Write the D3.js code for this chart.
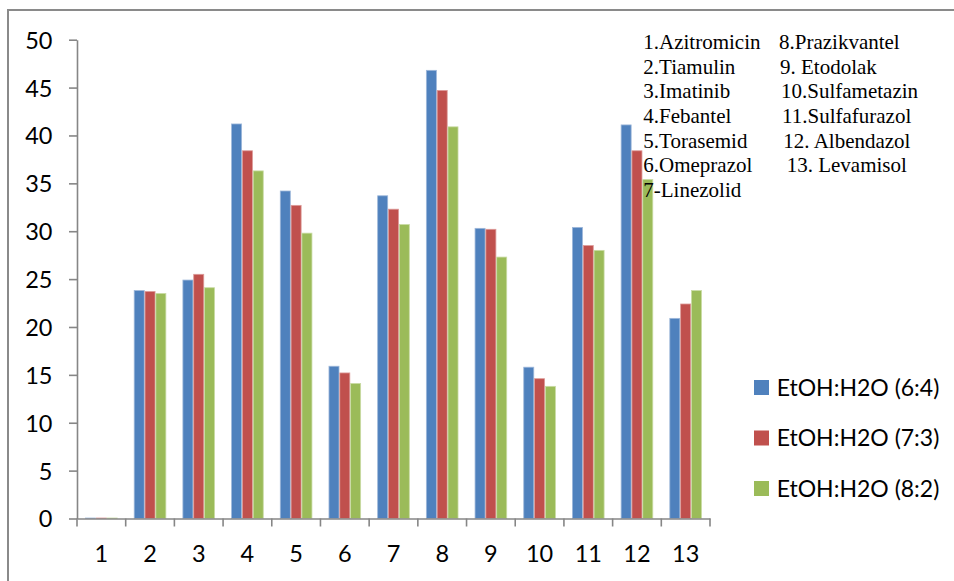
<!DOCTYPE html>
<html>
<head>
<meta charset="utf-8">
<script src="https://cdn.jsdelivr.net/npm/d3@7/dist/d3.min.js"></script>
<style>
  html, body { margin: 0; padding: 0; background: #fff; }
  svg { display: block; }
</style>
</head>
<body>
<svg id="chart" width="954" height="581"></svg>
<script>
// Compound numbers on the x axis
const categories = ["1","2","3","4","5","6","7","8","9","10","11","12","13"];

// Series names (solvent ratios)
const seriesNames = ["EtOH:H2O (6:4)", "EtOH:H2O (7:3)", "EtOH:H2O (8:2)"];

// Values per solvent ratio, one per compound
const values64 = [0.05, 23.8, 24.9, 41.2, 34.2, 15.9, 33.7, 46.8, 30.3, 15.8, 30.4, 41.1, 20.9];
const values73 = [0.05, 23.7, 25.5, 38.4, 32.7, 15.2, 32.3, 44.7, 30.2, 14.6, 28.5, 38.4, 22.4];
const values82 = [0.05, 23.5, 24.1, 36.3, 29.8, 14.1, 30.7, 40.9, 27.3, 13.8, 28.0, 35.4, 23.8];

const yTicks = [0, 5, 10, 15, 20, 25, 30, 35, 40, 45, 50];

// Compound key printed in the upper right
const keyColumn1 = ["1.Azitromicin", "2.Tiamulin", "3.Imatinib", "4.Febantel", "5.Torasemid", "6.Omeprazol", "7-Linezolid"];
const keyColumn2 = ["8.Prazikvantel", "9. Etodolak", "10.Sulfametazin", "11.Sulfafurazol", "12. Albendazol", "13. Levamisol"];

const colors = ["#4F81BD", "#C0504D", "#9BBB59"];
const edgeColors = ["#9DB7DA", "#DC9A98", "#C9DBA4"];
const seriesValues = [values64, values73, values82];

const svg = d3.select("#chart");
const axisColor = "#868686";
const sansFont = "Lato, 'Open Sans', sans-serif";

// Outer chart frame
svg.append("rect")
  .attr("x", 8).attr("y", 10)
  .attr("width", 960).attr("height", 600)
  .attr("fill", "none")
  .attr("stroke", "#8a8a8a")
  .attr("stroke-width", 2);

const plot = { left: 77, right: 710, top: 39.7, bottom: 518.5 };

const x0 = d3.scaleBand().domain(categories).range([plot.left, plot.right]).padding(0);
const bw = x0.bandwidth();
const x1 = d3.scaleBand().domain(d3.range(seriesNames.length)).range([bw / 6, bw * 5 / 6]).padding(0);
const y = d3.scaleLinear().domain([0, 50]).range([plot.bottom, plot.top]);

// Bars
const groups = svg.append("g").selectAll("g")
  .data(categories)
  .join("g")
  .attr("transform", d => `translate(${x0(d)},0)`);

groups.selectAll("rect")
  .data((c, i) => seriesValues.map((vals, s) => ({ s, v: vals[i] })))
  .join("rect")
  .attr("x", d => x1(d.s) + 0.4)
  .attr("width", x1.bandwidth() - 0.8)
  .attr("y", d => y(d.v))
  .attr("height", d => y(0) - y(d.v))
  .attr("fill", d => colors[d.s])
  .attr("stroke", d => edgeColors[d.s])
  .attr("stroke-width", 0.8);

// Y axis
const yAxis = svg.append("g")
  .attr("transform", `translate(${plot.left},0)`)
  .call(d3.axisLeft(y).tickValues(yTicks).tickSize(8).tickPadding(16.5).tickSizeOuter(0));
yAxis.select(".domain").attr("stroke", axisColor).attr("stroke-width", 1.6);
yAxis.selectAll(".tick line").attr("stroke", axisColor).attr("stroke-width", 1.6);
yAxis.selectAll(".tick text")
  .attr("font-family", sansFont)
  .attr("font-size", 23.5)
  .attr("fill", "#000")
  .attr("dy", "0.36em");

// X axis
const xAxis = svg.append("g")
  .attr("transform", `translate(0,${plot.bottom})`)
  .call(d3.axisBottom(x0).tickSize(0).tickSizeOuter(0));
xAxis.select(".domain").attr("stroke", axisColor).attr("stroke-width", 1.6);
xAxis.selectAll(".tick text")
  .attr("font-family", sansFont)
  .attr("font-size", 23.5)
  .attr("fill", "#000")
  .attr("y", 43.5)
  .attr("dy", "0");

// Category boundary ticks
const boundaries = categories.map(c => x0(c)).concat([x0(categories[categories.length - 1]) + bw]);
xAxis.selectAll("line.boundary")
  .data(boundaries)
  .join("line")
  .attr("class", "boundary")
  .attr("x1", d => d).attr("x2", d => d)
  .attr("y1", 0).attr("y2", 8)
  .attr("stroke", axisColor)
  .attr("stroke-width", 1.6);

// Compound key
const keyFont = "'Liberation Serif', 'Times New Roman', serif";
const keyCol2X = [779, 780, 781, 782, 783.3, 786.7];
svg.append("g").selectAll("text")
  .data(keyColumn1)
  .join("text")
  .attr("x", 643.3)
  .attr("y", (d, i) => 49.3 + i * 24.57)
  .attr("font-family", keyFont)
  .attr("font-size", 21)
  .attr("fill", "#000")
  .text(d => d);
svg.append("g").selectAll("text")
  .data(keyColumn2)
  .join("text")
  .attr("x", (d, i) => keyCol2X[i])
  .attr("y", (d, i) => 49.3 + i * 24.57)
  .attr("font-family", keyFont)
  .attr("font-size", 21)
  .attr("fill", "#000")
  .text(d => d);

// Series legend
const legend = svg.append("g").selectAll("g")
  .data(seriesNames)
  .join("g")
  .attr("transform", (d, i) => `translate(754,${380 + i * 50.5})`);
legend.append("rect")
  .attr("width", 15).attr("height", 15)
  .attr("fill", (d, i) => colors[i]);
legend.append("text")
  .attr("x", 22.7)
  .attr("y", 15.5)
  .attr("font-family", sansFont)
  .attr("font-size", 23)
  .attr("fill", "#000")
  .text(d => d);
</script>
</body>
</html>
